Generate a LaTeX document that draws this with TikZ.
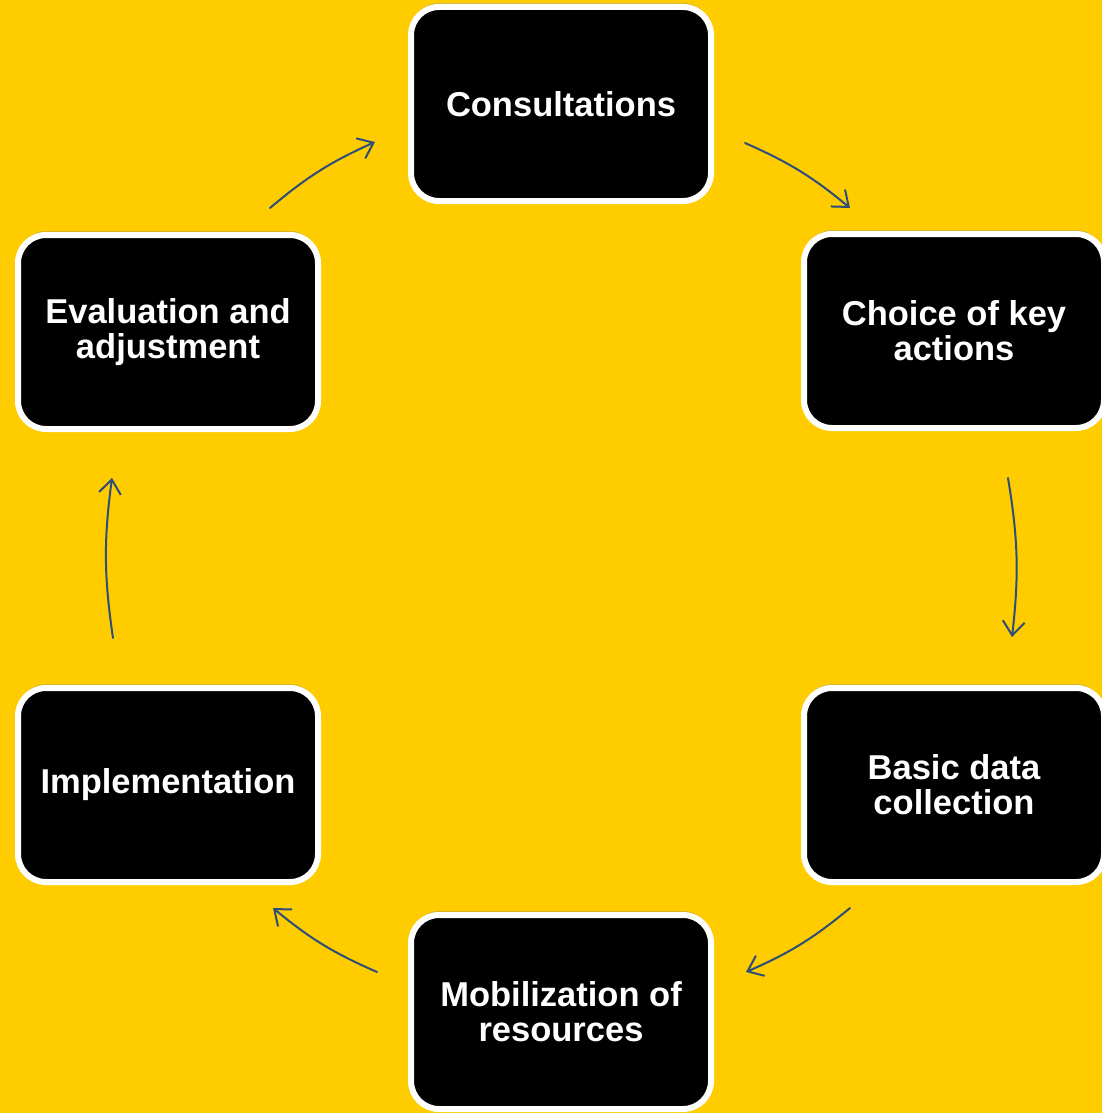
\documentclass[tikz,border=0pt]{standalone}
\usepackage{fontspec}
\setmainfont{Liberation Sans}
\usetikzlibrary{arrows.meta,shadows}
\definecolor{nenvang}{RGB}{255,204,0}
\definecolor{muiten}{RGB}{44,78,120}
\begin{document}
\begin{tikzpicture}[x=0.5pt,y=-0.5pt, line join=round, line cap=round,
    buoc/.style={draw=white, fill=black, line width=3pt, rounded corners=14pt,
        minimum width=150pt, minimum height=97pt, align=center, text=white,
        font=\fontsize{17.25}{17.5}\selectfont\bfseries,
        drop shadow={shadow xshift=0pt, shadow yshift=2pt, opacity=0.3}},
    mui/.style={draw=muiten, line width=1pt, -{Straight Barb[length=7pt,width=11pt]}}]
    %% Nen
    \useasboundingbox[fill=nenvang] (0,0) rectangle (1102,1113);
    %% Cac buoc
    \node[buoc] (tv) at (561,104) {Consultations};
    \node[buoc] (ch) at (954,331) {Choice of key\\actions};
    \node[buoc] (tt) at (954,785) {Basic data\\collection};
    \node[buoc] (hd) at (561,1012) {Mobilization of\\resources};
    \node[buoc] (th) at (168,785) {Implementation};
    \node[buoc] (dg) at (168,332) {Evaluation and\\adjustment};
    %% Dau mui ten
    \coordinate (a1) at (270,208); \coordinate (b1) at (375,142);
    \coordinate (a2) at (745,143); \coordinate (b2) at (850,208);
    \coordinate (a3) at (1008,478); \coordinate (b3) at (1012,637);
    \coordinate (a4) at (850,908); \coordinate (b4) at (746,972);
    \coordinate (a5) at (377,972); \coordinate (b5) at (273,908);
    \coordinate (a6) at (113,638); \coordinate (b6) at (112,478);
    \foreach \i in {1,...,6}
        \draw[mui] (a\i) to[bend left=8] (b\i);
\end{tikzpicture}
\end{document}
